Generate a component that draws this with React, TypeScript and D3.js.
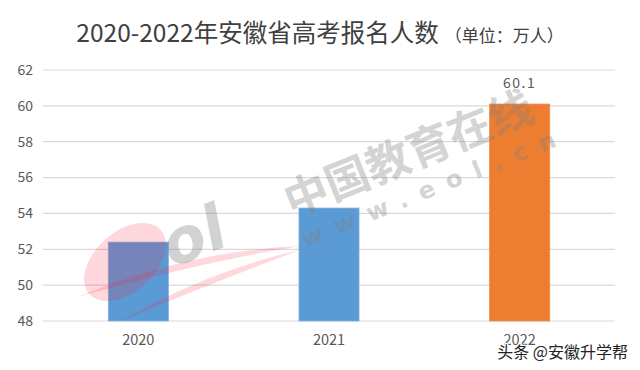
import React from "react";
import * as d3 from "d3";

// data
const years = ["2020", "2021", "2022"];
const applicants = [52.4, 54.3, 60.1]; // 万人
const yTicks = [48, 50, 52, 54, 56, 58, 60, 62];
const highlightYear = "2022";

const W = 640;
const H = 370;
const FONT = "'Noto Sans CJK SC', 'Noto Sans', sans-serif";

const App = () => {
  const y = d3.scaleLinear().domain([48, 62]).range([321, 70]);
  const x = d3
    .scaleBand<string>()
    .domain(years)
    .range([43, 615])
    .paddingInner(0.685)
    .paddingOuter(0.3425);

  const swoosh =
    "M78,297 Q190,250 302,246 Q200,262 78,297 Z M118,322 Q210,270 300,250 Q215,282 118,322 Z";

  return (
    <svg
      width={W}
      height={H}
      viewBox={`0 0 ${W} ${H}`}
      style={{ position: "absolute", left: 0, top: 0, background: "#fff" }}
      fontFamily={FONT}
    >
      <rect width={W} height={H} fill="#fff" />

      {/* title */}
      <text x={W / 2} y={42} textAnchor="middle" fill="#404040">
        <tspan fontSize={24.5}>2020-2022年安徽省高考报名人数</tspan>
        <tspan fontSize={17} dx={6}>（单位：万人）</tspan>
      </text>

      {/* grid + y labels */}
      {yTicks.map((t) => (
        <g key={t}>
          <line x1={43} x2={615} y1={y(t)} y2={y(t)} stroke="#d9d9d9" strokeWidth={1.2} />
          <text x={33} y={y(t)} dy="0.35em" textAnchor="end" fontSize={14} fill="#595959">
            {t}
          </text>
        </g>
      ))}

      {/* bars */}
      {years.map((yr, i) => {
        const hi = yr === highlightYear;
        const fill = hi ? "#ED7D31" : "#5B9BD5";
        const stroke = hi ? "#F08A45" : "#7EB2E2";
        return (
          <g key={yr}>
            <rect
              x={x(yr)}
              y={y(applicants[i])}
              width={x.bandwidth()}
              height={y(48) - y(applicants[i])}
              fill={fill}
              stroke={stroke}
              strokeWidth={0.8}
            />
            <text
              x={(x(yr) as number) + x.bandwidth() / 2}
              y={345}
              textAnchor="middle"
              fontSize={14.5}
              fill="#595959"
            >
              {yr}
            </text>
            {hi && (
              <text
                x={(x(yr) as number) + x.bandwidth() / 2}
                y={y(applicants[i]) - 16}
                textAnchor="middle"
                fontSize={14}
                letterSpacing={1.5}
                fill="#595959"
              >
                {applicants[i].toFixed(1)}
              </text>
            )}
          </g>
        );
      })}

      {/* eol watermark */}
      <g pointerEvents="none">
        <ellipse
          cx={125}
          cy={262}
          rx={48}
          ry={30}
          transform="rotate(-42 125 262)"
          fill="#ff1a33"
          opacity={0.17}
        />
        <path d={swoosh} fill="#ff1a33" opacity={0.17} />
        <text
          x={172}
          y={268}
          fontSize={62}
          fontWeight="bold"
          fontStyle="italic"
          fill="#7f7f7f"
          opacity={0.35}
          transform="rotate(-22 172 268)"
          fontFamily="'DejaVu Sans', sans-serif"
        >
          ol
        </text>
        <text
          x={292}
          y={218}
          fontSize={44}
          fontWeight="bold"
          fill="#7f7f7f"
          opacity={0.33}
          transform="rotate(-22 292 218)"
        >
          中国教育在线
        </text>
        <text
          x={305}
          y={248}
          fontSize={24}
          fontWeight="bold"
          letterSpacing={13}
          fill="#7f7f7f"
          opacity={0.33}
          transform="rotate(-22 305 248)"
          fontFamily="'DejaVu Sans', sans-serif"
        >
          www.eol.cn
        </text>
      </g>

      {/* platform watermark */}
      <text
        x={628}
        y={358}
        textAnchor="end"
        fontSize={16}
        fill="#222"
        stroke="#fff"
        strokeWidth={2.5}
        paintOrder="stroke"
      >
        头条 @安徽升学帮
      </text>
    </svg>
  );
};

export default App;
